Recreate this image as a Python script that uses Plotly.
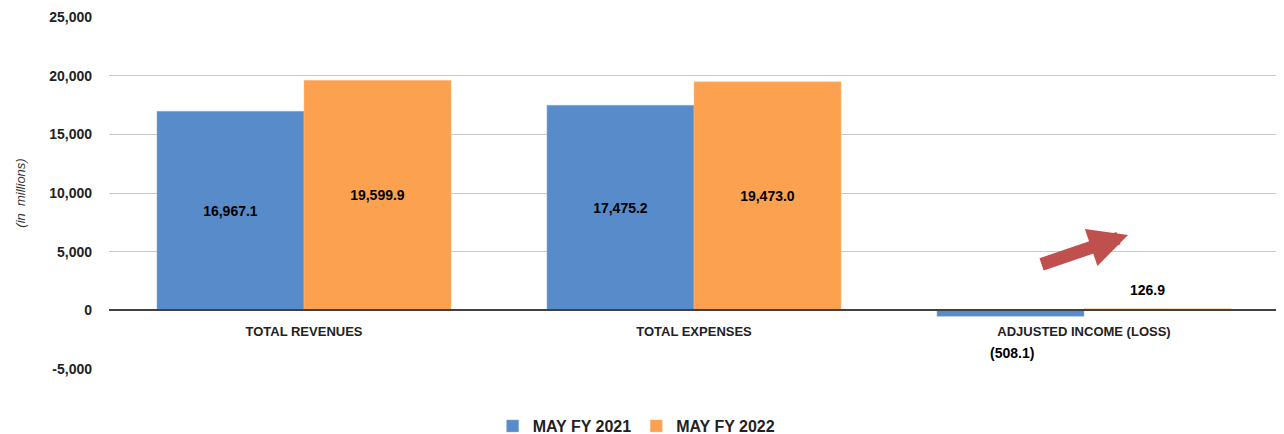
import plotly.graph_objects as go

categories = ["TOTAL REVENUES", "TOTAL EXPENSES", "ADJUSTED INCOME (LOSS)"]
may_fy2021 = [16967.1, 17475.2, -508.1]
may_fy2022 = [19599.9, 19473.0, 126.9]
y_tickvals = [-5000, 0, 5000, 10000, 15000, 20000, 25000]
y_ticktext = ["-5,000", "0", "5,000", "10,000", "15,000", "20,000", "25,000"]

BLUE = "#578bc9"
ORANGE = "#fca14f"
FONT = "Liberation Sans"


def fmt(v):
    s = f"{abs(v):,.1f}"
    return f"({s})" if v < 0 else s


def pos(vals):
    # large bars get their label inside, the tiny ones get an annotation
    return ["inside" if abs(v) > 2000 else "none" for v in vals]


fig = go.Figure()
fig.add_trace(go.Bar(x=categories, y=may_fy2021, name="MAY FY 2021",
                     marker=dict(color=BLUE, line=dict(color="#8fb0dc", width=0.5)),
                     text=[fmt(v) for v in may_fy2021], textposition=pos(may_fy2021),
                     insidetextanchor="middle"))
fig.add_trace(go.Bar(x=categories, y=may_fy2022, name="MAY FY 2022",
                     marker=dict(color=ORANGE, line=dict(color="#fcc08a", width=0.5)),
                     text=[fmt(v) for v in may_fy2022], textposition=pos(may_fy2022),
                     insidetextanchor="middle"))
fig.update_traces(textfont=dict(family=FONT, size=14, color="black", weight="bold"))

# labels for the small bars of the last category
lab_font = dict(family=FONT, size=14, color="black", weight="bold")
fig.add_annotation(x=categories[2], y=may_fy2021[2], text=fmt(may_fy2021[2]),
                   xshift=-72, yshift=-37, showarrow=False, font=lab_font)
fig.add_annotation(x=categories[2], y=may_fy2022[2], text=fmt(may_fy2022[2]),
                   xshift=63, yshift=19, showarrow=False, font=lab_font)

# red trend arrow
fig.add_annotation(x=0.871, y=0.381, xref="paper", yref="paper", text="",
                   showarrow=True, ax=-88, ay=30, arrowcolor="#c0504d",
                   arrowwidth=13, arrowhead=2, arrowsize=0.6, standoff=0)

# page body adds an 8px offset, margins compensate for it
fig.update_layout(
    width=1284, height=434,
    margin=dict(l=101, r=13, t=9, b=73, autoexpand=False),
    plot_bgcolor="white", paper_bgcolor="white",
    barmode="group", bargap=0.246, bargroupgap=0,
    font=dict(family=FONT, color="#222"),
    legend=dict(orientation="h", x=0.451, xanchor="center", y=-0.162, yanchor="middle",
                font=dict(family=FONT, size=16, color="#222", weight="bold"),
                itemwidth=30, tracegroupgap=0),
    xaxis=dict(anchor="free", position=1 / 6, showline=True, linecolor="#404040",
               linewidth=1.5, ticks="", showgrid=False, automargin=False,
               ticklabelstandoff=9,
               tickfont=dict(family=FONT, size=13, color="#222", weight="bold")),
    yaxis=dict(range=[-5000, 25000], tickvals=y_tickvals, ticktext=y_ticktext,
               showgrid=True, gridcolor="#c8c8c8", gridwidth=1, zeroline=False,
               ticklabelstandoff=16, automargin=False,
               tickfont=dict(family=FONT, size=14, color="#222", weight="bold"),
               title=dict(text="<i>(in  millions)</i>", standoff=20,
                          font=dict(family=FONT, size=13, color="#333"))),
)

fig.write_html("out.html")
